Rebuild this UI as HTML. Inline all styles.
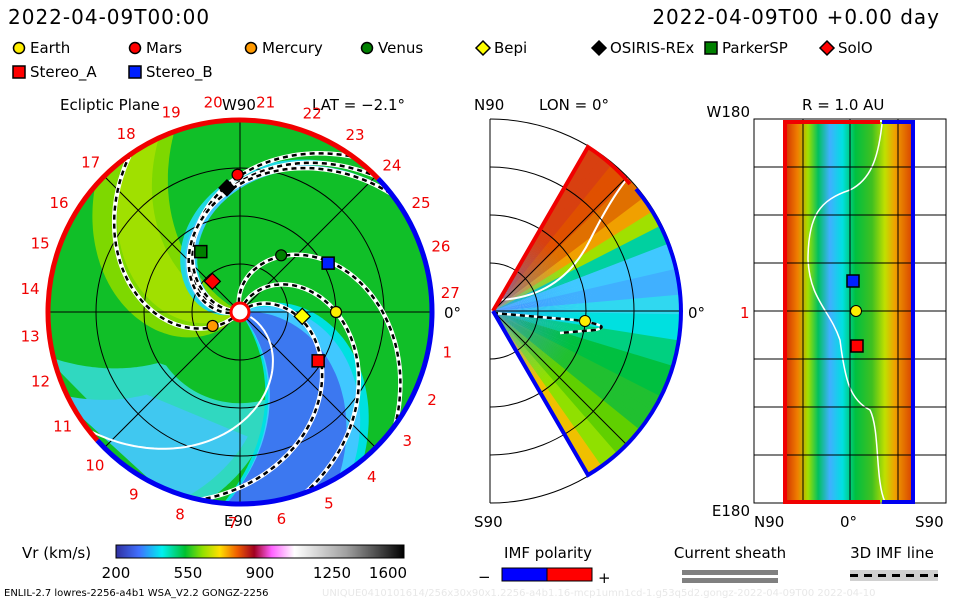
<!DOCTYPE html>
<html><head><meta charset="utf-8"><style>
body{margin:0;background:#fff;}
svg{display:block;font-family:"DejaVu Sans","Liberation Sans",sans-serif;}
</style></head><body>
<svg id="chart" width="960" height="600" viewBox="0 0 960 600" xmlns="http://www.w3.org/2000/svg">
<defs>
<clipPath id="mainClip"><circle cx="240" cy="312" r="192"/></clipPath>
<clipPath id="wedgeClip"><path d="M493,311 L588,147 A190,190 0 0 1 588,475 Z"/></clipPath>
<linearGradient id="cbar" x1="0" x2="1" y1="0" y2="0">
<stop offset="0" stop-color="#3030a0"/><stop offset="0.08" stop-color="#4070ff"/><stop offset="0.16" stop-color="#00f0f0"/><stop offset="0.24" stop-color="#00c030"/><stop offset="0.3" stop-color="#90e000"/><stop offset="0.36" stop-color="#ffe000"/><stop offset="0.42" stop-color="#f06000"/><stop offset="0.48" stop-color="#a00020"/><stop offset="0.54" stop-color="#ff60ff"/><stop offset="0.62" stop-color="#ffffff"/><stop offset="0.8" stop-color="#a0a0a0"/><stop offset="1" stop-color="#000000"/>
</linearGradient>
<radialGradient id="wedgeRadial" cx="493" cy="311" r="190" gradientUnits="userSpaceOnUse">
<stop offset="0" stop-color="#4070ff" stop-opacity="0.55"/><stop offset="0.45" stop-color="#40a0ff" stop-opacity="0"/>
</radialGradient>
<linearGradient id="rectGrad" x1="0" x2="1" y1="0" y2="0">
<stop offset="0" stop-color="#d03000"/><stop offset="0.1" stop-color="#f08000"/><stop offset="0.18" stop-color="#a0e000"/><stop offset="0.26" stop-color="#00c060"/><stop offset="0.35" stop-color="#40b0ff"/><stop offset="0.45" stop-color="#00e0e0"/><stop offset="0.55" stop-color="#00c040"/><stop offset="0.68" stop-color="#40c020"/><stop offset="0.78" stop-color="#c0e000"/><stop offset="0.86" stop-color="#f0a000"/><stop offset="1" stop-color="#d84000"/>
</linearGradient>
</defs>

<text x="8" y="24" font-size="20" letter-spacing="1">2022-04-09T00:00</text>
<text x="940" y="24" font-size="20" letter-spacing="1" text-anchor="end">2022-04-09T00 +0.00 day</text>

<g id="legend" font-size="15"></g>

<g>
<text x="60" y="110" font-size="15">Ecliptic Plane</text>
<text x="222" y="110" font-size="15">W90</text>
<text x="312" y="110" font-size="15">LAT = −2.1°</text>
<text x="224" y="526" font-size="15">E90</text>
<circle cx="240" cy="312" r="192" fill="#10bf28"/>
<g id="mainField" clip-path="url(#mainClip)"></g>
<g id="mainGrid" fill="none" stroke="#000" stroke-width="1"></g>
<g id="spirals" clip-path="url(#mainClip)"></g>
<path id="rimRed" fill="none" stroke="#f00000" stroke-width="5"/>
<path id="rimBlue" fill="none" stroke="#0000f0" stroke-width="5"/>
<circle cx="240" cy="312" r="9" fill="#fff" stroke="#f00" stroke-width="3"/>
<g id="lonLabels" font-size="15" fill="#f00000" text-anchor="middle"></g>
<text x="444" y="318" font-size="15">0°</text>
<g id="bodies"></g>
</g>

<g>
<text x="474" y="110" font-size="15">N90</text>
<text x="539" y="110" font-size="15">LON = 0°</text>
<text x="474" y="527" font-size="15">S90</text>
<text x="688" y="318" font-size="15">0°</text>
<line x1="490" y1="119" x2="490" y2="503" stroke="#000"/>
<g clip-path="url(#wedgeClip)">
<g id="merField"></g>
<rect x="490" y="140" width="200" height="340" fill="url(#wedgeRadial)"/>
<path d="M493,300 Q560,300 590,240 Q615,190 635,170" fill="none" stroke="#fff" stroke-width="2"/>
<path d="M493,313 L575,320 Q615,326 595,330 L560,333" fill="none" stroke="#fff" stroke-width="2.5"/>
<path d="M493,313 L575,320 Q615,326 595,330 L560,333" fill="none" stroke="#000" stroke-width="2.5" stroke-dasharray="5,4"/>
</g>
<g id="merGrid" fill="none" stroke="#000" stroke-width="1"></g>
<path d="M493,311 L588,147 A190,190 0 0 1 630,184" fill="none" stroke="#f00000" stroke-width="4"/>
<path d="M636,189 A190,190 0 0 1 588,475 L493,311" fill="none" stroke="#0000f0" stroke-width="4"/>
<circle cx="585" cy="321" r="5.5" fill="#ffee00" stroke="#000"/>
</g>

<g>
<text x="802" y="110" font-size="15">R = 1.0 AU</text>
<text x="750" y="117" font-size="15" text-anchor="end">W180</text>
<text x="750" y="516" font-size="15" text-anchor="end">E180</text>
<text x="740" y="318" font-size="15" fill="#f00000">1</text>
<text x="754" y="527" font-size="15">N90</text>
<text x="840" y="527" font-size="15">0°</text>
<text x="915" y="527" font-size="15">S90</text>
<rect x="785" y="122" width="128" height="380" fill="url(#rectGrad)"/>
<path d="M882,124 C878,160 870,180 850,190 C820,200 808,215 808,260 C810,300 830,310 840,340 C845,380 850,400 870,410 C880,430 875,480 885,502" fill="none" stroke="#fff" stroke-width="1.5"/>
<g id="rectGrid" stroke="#000" stroke-width="1"></g>
<path d="M880,122 H785 V502 H880" fill="none" stroke="#f00000" stroke-width="4"/>
<path d="M882,122 H913 V502 H882" fill="none" stroke="#0000f0" stroke-width="4"/>
<rect x="847" y="275" width="12" height="12" fill="#0020ff" stroke="#000" stroke-width="1.5"/>
<circle cx="856" cy="311" r="5.5" fill="#ffee00" stroke="#000"/>
<rect x="851" y="340" width="12" height="12" fill="#ff0000" stroke="#000" stroke-width="1.5"/>
</g>

<g>
<text x="22" y="558" font-size="15">Vr (km/s)</text>
<rect x="116" y="545" width="288" height="13" fill="url(#cbar)" stroke="#000"/>
<g id="cbarTicks" font-size="15" text-anchor="middle"></g>
</g>
<g>
<text x="548" y="558" font-size="15" text-anchor="middle">IMF polarity</text>
<text x="478" y="582" font-size="15">−</text>
<rect x="502" y="568" width="45" height="13" fill="#0000ff" stroke="#000"/>
<rect x="547" y="568" width="45" height="13" fill="#ff0000" stroke="#000"/>
<text x="598" y="583" font-size="15">+</text>
</g>
<g>
<text x="730" y="558" font-size="15" text-anchor="middle">Current sheath</text>
<rect x="682" y="570" width="96" height="5" fill="#808080"/>
<rect x="682" y="578" width="96" height="5" fill="#808080"/>
</g>
<g>
<text x="892" y="558" font-size="15" text-anchor="middle">3D IMF line</text>
<rect x="850" y="570" width="88" height="11" fill="#d0d0d0"/>
<line x1="850" y1="575.5" x2="938" y2="575.5" stroke="#000" stroke-width="3" stroke-dasharray="8,6"/>
</g>
<text x="4" y="596" font-size="10">ENLIL-2.7 lowres-2256-a4b1 WSA_V2.2 GONGZ-2256</text>
<text x="322" y="596" font-size="10" fill="#e8e8e8">UNIQUE0410101614/256x30x90x1.2256-a4b1.16-mcp1umn1cd-1.g53q5d2.gongz-2022-04-09T00   2022-04-10</text>
</svg>
<script>
const NS="http://www.w3.org/2000/svg";
// ---- data ----
const bodyNames=["Earth","Mars","Mercury","Venus","Bepi","OSIRIS-REx","ParkerSP","SolO","Stereo_A","Stereo_B"];
const bodyR=[1.0,1.43,0.32,0.73,0.65,1.30,0.75,0.43,0.96,1.05];
const bodyLon=[0,91,207,54,-4,96,123,132,-32,29];
const bodyShape=["circle","circle","circle","circle","diamond","diamond","square","diamond","square","square"];
const bodyColor=["#ffee00","#ff0000","#ff9900","#008000","#ffff00","#000000","#008000","#ff0000","#ff0000","#0020ff"];
const spiralPhi0=[38,70,104,185,178,194,225];
const spiralRate=[70,70,70,70,62,78,50];
const cbarValues=[200,550,900,1250,1600];
const lonLabels=["1","2","3","4","5","6","7","8","9","10","11","12","13","14","15","16","17","18","19","20","21","22","23","24","25","26","27"];
const lonLabelAngle=[-11,-24.6,-37.6,-51.4,-65.1,-78.7,-92,-106.5,-120.2,-133.4,-147.1,-160.8,-173.4,173.8,161.1,149,135,122.6,109,97.3,83,70,57,44,31,18,5.2];
const merAngles=[60,52,45,38,33,28,22,14,6,0,-8,-16,-26,-38,-48,-54,-60];
const merColors=["#d84010","#e05000","#e07000","#f0a000","#a0e000","#00d0a0","#40c8ff","#40b0ff","#30d8f0","#00e0e0","#00d080","#00c040","#20c030","#60d000","#90e000","#f0c000","#e06000"];

const cx=240,cy=312,pxPerAU=96;
function sx(r,phi){return cx+r*pxPerAU*Math.cos(phi*Math.PI/180);}
function sy(r,phi){return cy-r*pxPerAU*Math.sin(phi*Math.PI/180);}
function spiralPts(p0,k,r0,r1){const a=[];for(let r=r0;r<=r1+1e-9;r+=0.02)a.push([sx(r,p0-k*r),sy(r,p0-k*r)]);return a;}
function mk(tag,attrs,parent){const e=document.createElementNS(NS,tag);for(const k in attrs)e.setAttribute(k,attrs[k]);parent.appendChild(e);return e;}
function band(pA,kA,pB,kB,fill,parent,name,r0){
  const a=spiralPts(pA,kA,r0||0.02,2.1),b=spiralPts(pB,kB,r0||0.02,2.1).reverse();
  const el=mk("path",{d:"M"+a.concat(b).map(p=>p[0].toFixed(1)+","+p[1].toFixed(1)).join("L")+"Z",fill:fill},parent);
  
  
}
const mf=document.getElementById("mainField");
band(-40,30,-130,18,"#30d8c0",mf,"cyan-region-outer",1.0);
band(-50,28,-110,22,"#40c8f0",mf,"lightblue-region-outer",1.3);
const gd=mk("circle",{cx:cx,cy:cy,r:0.95*pxPerAU,fill:"#10bf28"},mf);


band(30,40,-55,20,"#00e0e0",mf,"cyan-band");
band(22,38,-52,21,"#40c8ff",mf,"lightblue-band");
band(5,32,-50,22,"#3c78f0",mf,"fast-blue-stream");
band(235,48,150,20,"#7ed800",mf,"slow-yellowgreen-region");
band(215,45,165,25,"#a0e000",mf,"slow-core-region");
band(205,80,175,65,"#20d8e0",mf,"cyan-sheath-band");
band(200,80,180,70,"#40c8ff",mf,"blue-sheath-band");
const g=document.getElementById("mainGrid");
[0.5,1,1.5].forEach(r=>{const c=mk("circle",{cx:cx,cy:cy,r:r*pxPerAU},g);});
[0,45,90,135].forEach(a=>{const l=mk("line",{x1:sx(2,a),y1:sy(2,a),x2:sx(2,a+180),y2:sy(2,a+180)},g);});
const sg=document.getElementById("spirals");
const sheath=mk("path",{d:"M"+spiralPts(-18,62,0.12,2.1).map(p=>p[0].toFixed(1)+","+p[1].toFixed(1)).join("L"),fill:"none",stroke:"#fff","stroke-width":2},sg);


spiralPhi0.forEach((p0,i)=>{
  const d="M"+spiralPts(p0,spiralRate[i],0.1,2.1).map(p=>p[0].toFixed(1)+","+p[1].toFixed(1)).join("L");
  const w=mk("path",{d:d,fill:"none",stroke:"#fff","stroke-width":4.5},sg);
  
  
  const b=mk("path",{d:d,fill:"none",stroke:"#000","stroke-width":2.5,"stroke-dasharray":"5,4"},sg);
  
  
});
function arc(a0,a1,r){const x0=sx(r,a0),y0=sy(r,a0),x1=sx(r,a1),y1=sy(r,a1);const large=Math.abs(a1-a0)>180?1:0;return `M${x0},${y0} A${r*pxPerAU},${r*pxPerAU} 0 ${large} 0 ${x1},${y1}`;}
document.getElementById("rimRed").setAttribute("d",arc(44,222,2));
document.getElementById("rimBlue").setAttribute("d",arc(-138,44,2));
const ll=document.getElementById("lonLabels");
lonLabels.forEach((t,i)=>{const a=lonLabelAngle[i];const x=sx(2.2,a),y=sy(2.2,a)+5;
  const e=mk("text",{x:x.toFixed(1),y:y.toFixed(1)},ll);e.textContent=t;
  
  });
const bg=document.getElementById("bodies");
bodyNames.forEach((n,i)=>{const x=sx(bodyR[i],bodyLon[i]),y=sy(bodyR[i],bodyLon[i]);let e;
  if(bodyShape[i]==="circle")e=mk("circle",{cx:x,cy:y,r:5.5,fill:bodyColor[i],stroke:"#000","stroke-width":1.2},bg);
  else if(bodyShape[i]==="square")e=mk("rect",{x:x-6,y:y-6,width:12,height:12,fill:bodyColor[i],stroke:"#000","stroke-width":1.5},bg);
  else e=mk("path",{d:`M${x},${y-8}L${x+8},${y}L${x},${y+8}L${x-8},${y}Z`,fill:bodyColor[i],stroke:"#000","stroke-width":1.2},bg);
  
  });
const lg=document.getElementById("legend");
const legX=[12,128,244,360,476,592,704,820,12,128],legY=[48,48,48,48,48,48,48,48,72,72];
bodyNames.forEach((n,i)=>{const x=legX[i]+7,y=legY[i];let e;
  if(bodyShape[i]==="circle")e=mk("circle",{cx:x,cy:y,r:5.5,fill:bodyColor[i],stroke:"#000","stroke-width":1.5},lg);
  else if(bodyShape[i]==="square")e=mk("rect",{x:x-6,y:y-6,width:12,height:12,fill:bodyColor[i],stroke:"#000","stroke-width":1.5},lg);
  else e=mk("path",{d:`M${x},${y-7}L${x+7},${y}L${x},${y+7}L${x-7},${y}Z`,fill:bodyColor[i],stroke:"#000","stroke-width":1.5},lg);
  
  
  const t=mk("text",{x:x+11,y:y+5},lg);t.textContent=n;
  
  });
// meridional field: angular colour slices
const mfd=document.getElementById("merField");
function mcol(a){for(let i=0;i<merAngles.length-1;i++){if(a<=merAngles[i]&&a>=merAngles[i+1])return merColors[i];}return merColors[merColors.length-1];}
for(let a=61;a>-61;a-=1){const a0=a*Math.PI/180,a1=(a-1.2)*Math.PI/180,R=200;
  const s=mk("path",{d:`M493,311 L${493+R*Math.cos(a0)},${311-R*Math.sin(a0)} L${493+R*Math.cos(a1)},${311-R*Math.sin(a1)} Z`,fill:mcol(a)},mfd);
  
  }
const mg=document.getElementById("merGrid");
[48,96,144,192].forEach(r=>{const a=mk("path",{d:`M490,${311-r} A${r},${r} 0 0 1 490,${311+r}`},mg);});
[-45,0,45].forEach(a=>{const l=mk("line",{x1:493,y1:311,x2:493+190*Math.cos(a*Math.PI/180),y2:311-190*Math.sin(a*Math.PI/180)},mg);});
const rg=document.getElementById("rectGrid");
mk("rect",{x:754,y:119,width:192,height:384,fill:"none"},rg);
[803,850,898].forEach(x=>{const l=mk("line",{x1:x,y1:119,x2:x,y2:503},rg);});
[167,215,263,311,359,407,455].forEach(y=>{const l=mk("line",{x1:754,y1:y,x2:946,y2:y},rg);});
const ct=document.getElementById("cbarTicks");
function cbx(v){return 116+(v-200)/(1600-200)*288;}
cbarValues.forEach(v=>{const t=mk("text",{x:Math.min(cbx(v),388),y:578},ct);t.textContent=v;
  
  });
</script>
</body></html>
